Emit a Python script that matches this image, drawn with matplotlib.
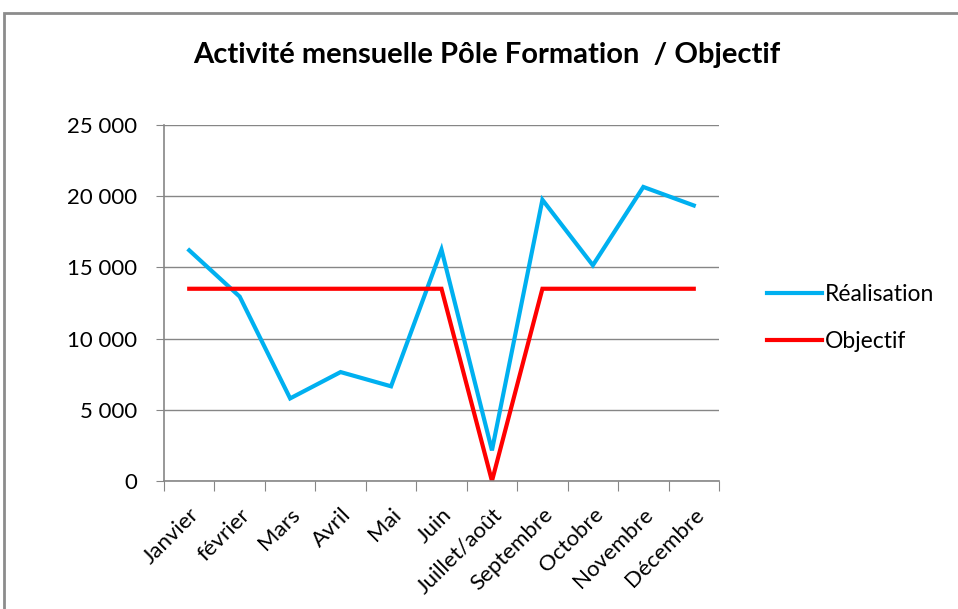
import matplotlib.pyplot as plt
import matplotlib.ticker as mticker
from matplotlib.patches import Rectangle

# data
mois = ["Janvier", "février", "Mars", "Avril", "Mai", "Juin", "Juillet/août",
        "Septembre", "Octobre", "Novembre", "Décembre"]
realisation = [16200, 12950, 5800, 7650, 6650, 16250, 2150, 19750, 15150, 20650, 19350]
objectif = [13500, 13500, 13500, 13500, 13500, 13500, 0, 13500, 13500, 13500, 13500]
y_ticks = [0, 5000, 10000, 15000, 20000, 25000]

plt.rcParams['font.family'] = ['Lato', 'DejaVu Sans']
grey = "#868686"

fig = plt.figure(figsize=(9.58, 6.09), dpi=100)
ax = fig.add_axes([164 / 958, 1 - 481 / 609, (719 - 164) / 958, (481 - 125) / 609])

x = list(range(len(mois)))
ax.plot(x, realisation, color="#00B0F0", lw=3, label="Réalisation", solid_joinstyle="miter")
ax.plot(x, objectif, color="#FF0000", lw=3, label="Objectif", solid_joinstyle="miter")

ax.set_xlim(-0.5, len(mois) - 0.5)
ax.set_ylim(0, 25000)
ax.set_yticks(y_ticks)
ax.yaxis.set_major_formatter(mticker.FuncFormatter(lambda v, p: f"{int(v):,}".replace(",", " ")))
ax.grid(axis="y", color=grey, lw=1)
ax.set_axisbelow(True)

# category ticks between months, labels at centres
ax.set_xticks([i - 0.5 for i in range(len(mois) + 1)], minor=False)
ax.set_xticklabels([])
ax.set_xticks(x, minor=True)
ax.set_xticklabels(mois, minor=True, rotation=45, ha="right", va="top",
                   rotation_mode="anchor", fontsize=16)
ax.tick_params(axis="x", which="minor", length=0, pad=17)
ax.tick_params(axis="x", which="major", length=7, color=grey, direction="out")
ax.tick_params(axis="y", length=6, color=grey, labelsize=16, pad=13)

for s in ["top", "right"]:
    ax.spines[s].set_visible(False)
for s in ["left", "bottom"]:
    ax.spines[s].set_color(grey)
    ax.spines[s].set_linewidth(1.2)

fig.text(487 / 958, 1 - 55 / 609, "Activité mensuelle Pôle Formation  / Objectif",
         ha="center", va="center", fontsize=21, fontweight="bold")

ax.legend(loc="center left", bbox_to_anchor=(1.049, 0.458), frameon=False, fontsize=16.5,
          handlelength=2.4, handletextpad=0.12, labelspacing=1.1)

# outer chart border
fig.patches.append(Rectangle((4 / 958, -0.1), 1.2, 1 - 13 / 609 + 0.1, transform=fig.transFigure,
                             fill=False, edgecolor="#8c8c8c", lw=2))

fig.savefig("out.png", dpi=100)
